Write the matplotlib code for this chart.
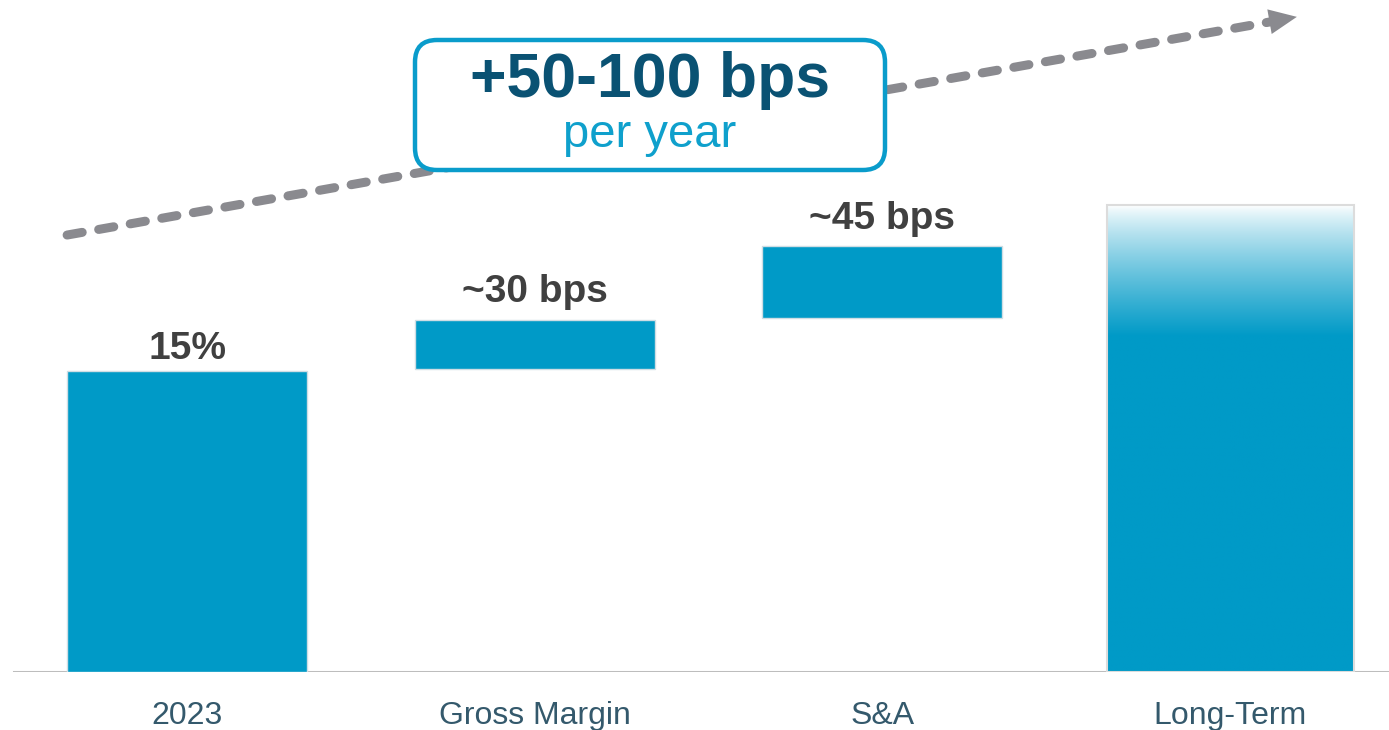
import numpy as np
import matplotlib.pyplot as plt
from matplotlib.patches import FancyBboxPatch, Rectangle
from matplotlib.transforms import IdentityTransform

plt.rcParams['font.family'] = ['Liberation Sans', 'DejaVu Sans']

# chart values (margin %)
categories = ['2023', 'Gross Margin', 'S&A', 'Long-Term']
bar_bottoms = [0.0, 15.1, 17.65, 0.0]
bar_heights = [15.0, 2.45, 3.55, 23.25]
bar_labels = ['15%', '~30 bps', '~45 bps', '']
callout_main = '+50-100 bps'
callout_sub = 'per year'

BLUE = '#009ac7'
GREY = '#8a8a8f'
W, H = 1389, 730

fig = plt.figure(figsize=(W / 100, H / 100), dpi=100)
ax = fig.add_axes([0, 58 / H, 1, 1 - 58 / H])
x = np.arange(len(categories))
ax.set_xlim(-0.538, 3.457)
ax.set_ylim(0, 33.48)
for s in ax.spines.values():
    s.set_visible(False)
ax.set_yticks([])
ax.set_xticks(x, categories)
ax.tick_params(axis='x', length=0, pad=21, labelsize=23, labelcolor='#34596c')

# baseline
ax.axhline(0, xmin=0.01, xmax=1, color='#bdbdbd', lw=2.2, zorder=1)

# floating / base bars
ax.bar(x[:3], bar_heights[:3], bottom=bar_bottoms[:3], width=0.69,
       color=BLUE, edgecolor='#cfdde4', lw=1, zorder=2)

# long-term bar with fade at the top
bw = 0.71
x0, x1 = x[3] - bw / 2, x[3] + bw / 2
top = bar_bottoms[3] + bar_heights[3]
n = 400
t = np.linspace(0, 1, n)  # 0 = top, 1 = bottom
mix = np.clip(t / 0.28, 0, 1) ** 0.8
c0 = np.array([1.0, 1.0, 1.0])
c1 = np.array([0x00, 0x9a, 0xc7]) / 255
grad = (c0[None, :] * (1 - mix[:, None]) + c1[None, :] * mix[:, None])[:, None, :]
ax.imshow(grad, extent=[x0, x1, bar_bottoms[3], top], aspect='auto',
          origin='upper', zorder=2, interpolation='bilinear')
ax.add_patch(Rectangle((x0, bar_bottoms[3]), bw, bar_heights[3], fill=False,
                       edgecolor='#dcdcdc', lw=1.5, zorder=3))

# value labels
for xi, b, h, lab in zip(x, bar_bottoms, bar_heights, bar_labels):
    if lab:
        ax.annotate(lab, (xi, b + h), xytext=(0, 3 if b == 0 else 7),
                    textcoords='offset points', ha='center', va='bottom',
                    fontsize=28, fontweight='bold', color='#404040')

# dashed trend arrow
ax.plot([-0.345, 3.122], [21.77, 32.41], color=GREY, lw=6.5,
        dashes=(1.7, 1.85), dash_capstyle='round', zorder=4)
ax.annotate('', xy=(3.192, 32.64), xytext=(3.12, 32.42),
            arrowprops=dict(width=0.1, headwidth=18, headlength=20,
                            color=GREY, lw=0, shrink=0), zorder=4)

# callout box (pixel coords)
box = FancyBboxPatch((415, H - 170), 470, 130,
                     boxstyle='round,pad=0,rounding_size=22',
                     transform=IdentityTransform(), facecolor='white',
                     edgecolor='#0a9ccb', lw=3.2, zorder=5)
fig.patches.append(box)
box.set_figure(fig)
fig.text(650 / W, 1 - 80 / H, callout_main, ha='center', va='center',
         fontsize=45, fontweight='bold', color='#0a5273', zorder=6)
fig.text(650 / W, 1 - 135 / H, callout_sub, ha='center', va='center',
         fontsize=34, color='#0fa0cc', zorder=6)

fig.savefig('out.png', dpi=100)
